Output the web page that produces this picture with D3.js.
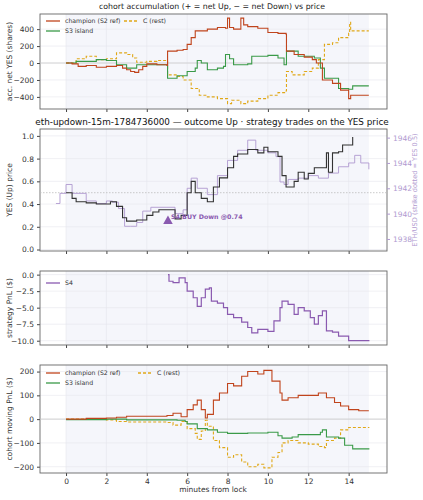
<!DOCTYPE html><html><head><meta charset="utf-8"><script src="https://cdn.jsdelivr.net/npm/d3@7"></script>
<style>body{margin:0;background:#fff}text{font-family:"DejaVu Sans",sans-serif}</style></head><body><svg id="c" width="423" height="500"></svg><script>
const xTicks=[0,2,4,6,8,10,12,14];
const accChamp=[[0,0],[0.3,-10],[0.6,-40],[1,-30],[1.5,-50],[2,-40],[2.5,-30],[2.8,-60],[3,-80],[3.2,-100],[3.4,-110],[3.6,-80],[3.8,-40],[4,-10],[4.5,-20],[5,-30],[5.03,140],[5.5,150],[5.8,160],[6,220],[6.2,300],[6.4,380],[7,400],[7.5,420],[7.9,410],[8.0,530],[8.1,420],[8.3,400],[8.66,530],[8.8,450],[9,430],[9.5,410],[10,360],[10.5,350],[10.9,340],[10.92,140],[11.3,100],[11.8,70],[12.2,40],[12.4,0],[12.7,-200],[13.2,-240],[13.6,-320],[14,-420],[14.1,-380],[15,-380]];
const accS3=[[0,0],[0.5,20],[1.5,40],[2,30],[2.5,-20],[3,-60],[3.5,-20],[4.5,-20],[5.03,-180],[5.5,-150],[6,-100],[6.4,-60],[6.5,30],[6.7,0],[7,-80],[7.5,-60],[7.8,-40],[7.9,100],[8.1,50],[8.3,-20],[9,-10],[9.2,80],[10,90],[10.5,60],[10.8,-20],[10.92,140],[11.5,80],[12.3,60],[12.6,-60],[12.8,-180],[13.5,-300],[14,-310],[14.2,-270],[15,-270]];
const accC=[[0,0],[0.5,50],[1,80],[1.5,40],[2,50],[2.5,120],[3,100],[3.3,60],[3.5,10],[4,20],[4.5,30],[5.03,-140],[5.5,-160],[5.8,-200],[6.2,-300],[6.6,-380],[7,-400],[7.5,-420],[8,-480],[8.2,-440],[8.66,-480],[9,-450],[9.5,-420],[10,-380],[10.5,-350],[10.9,-330],[10.92,-100],[11.2,-140],[11.8,-100],[12.2,-60],[12.5,40],[12.8,220],[13.2,240],[13.5,300],[14,350],[14.05,480],[14.1,380],[15,380]];
const yesPrice=[[0,0.5],[0.3,0.45],[0.5,0.42],[1,0.41],[1.5,0.4],[2,0.4],[2.2,0.42],[2.5,0.38],[2.8,0.28],[3,0.25],[3.5,0.26],[4,0.3],[4.3,0.33],[4.6,0.35],[5,0.35],[5.4,0.27],[5.7,0.3],[6,0.5],[6.2,0.6],[6.4,0.5],[6.7,0.45],[7,0.42],[7.3,0.55],[7.6,0.63],[8,0.72],[8.3,0.82],[8.5,0.84],[9,0.88],[9.5,0.85],[9.8,0.9],[10,0.86],[10.5,0.82],[10.7,0.65],[10.9,0.55],[11.3,0.6],[11.5,0.68],[11.8,0.62],[12,0.67],[12.3,0.72],[12.6,0.72],[12.9,0.85],[13,0.68],[13.2,0.85],[13.5,0.86],[13.7,0.92],[14.2,0.99]];
const ethPrice=[[-0.5,1940.8],[-0.3,1941.6],[0,1942.3],[0.3,1941.6],[1,1941.0],[1.5,1940.8],[2,1941],[2.3,1940.9],[2.6,1940.4],[2.9,1939],[3.2,1939],[3.5,1939.3],[3.8,1940.2],[4.2,1940.5],[5,1940.5],[5.4,1940],[5.8,1940.3],[6,1942],[6.2,1942.8],[6.5,1942],[7,1941.5],[7.5,1943],[8,1944.2],[8.5,1945],[9,1945.8],[9.4,1945],[10,1944.8],[10.4,1944.5],[10.6,1942.5],[10.8,1942.3],[11,1942.7],[11.5,1942.8],[12,1943],[12.5,1942.8],[13,1943.2],[13.5,1943.7],[14,1944],[14.3,1944.6],[14.6,1944],[15,1943.5]];
const trade={t:5.05,price:0.25,label:"S4 BUY Down @0.74"};
const s4Pnl=[[5.05,0],[5.1,-1],[5.3,-1.2],[5.6,-0.5],[5.9,-1.2],[6,-2.5],[6.3,-3.5],[6.5,-4.8],[6.7,-3.5],[6.9,-2.2],[7.1,-2],[7.2,-4],[7.5,-4.3],[7.8,-5],[8,-6],[8.3,-6.5],[8.7,-7.2],[9,-8],[9.2,-8.8],[9.5,-8.3],[10,-8.6],[10.3,-7],[10.6,-5],[10.7,-4],[11,-4.5],[11.3,-6],[11.5,-5],[11.8,-5.5],[12.1,-6.5],[12.3,-7.5],[12.5,-6.2],[12.7,-5.5],[12.9,-8.5],[13.2,-8.7],[13.5,-9.3],[14,-10],[15,-10.1]];
const pnlChamp=[[0,0],[1,3],[2,5],[2.5,8],[3,12],[4,12],[5,15],[5.3,25],[5.7,10],[6,40],[6.3,60],[6.5,80],[6.7,40],[6.9,5],[7,20],[7.3,80],[7.6,110],[8,150],[8.3,140],[8.7,180],[9,200],[9.5,190],[9.8,205],[10.2,160],[10.6,110],[10.7,80],[11,90],[11.5,100],[12,100],[12.5,110],[12.8,110],[12.9,90],[13.3,70],[13.6,55],[14,40],[14.5,35],[15,35]];
const pnlS3=[[0,-2],[2,0],[3,-3],[4,-3],[5.5,-5],[5.9,-10],[6,-20],[6.5,-40],[7,-45],[7.5,-55],[8,-60],[9,-58],[10,-55],[10.5,-70],[10.7,-80],[11.2,-75],[11.5,-65],[12,-65],[12.6,-55],[12.7,-45],[12.9,-75],[13.5,-80],[13.8,-110],[14.2,-125],[15,-128]];
const pnlC=[[0,0],[2,-3],[2.5,-10],[3,-12],[4,-12],[5,-14],[5.3,-25],[5.7,-10],[6,-40],[6.4,-60],[6.5,-85],[6.7,-50],[6.9,-5],[7,-30],[7.3,-90],[7.6,-120],[8,-160],[8.3,-150],[8.7,-180],[9,-200],[9.5,-190],[9.8,-205],[10.2,-160],[10.5,-140],[10.7,-100],[11,-90],[11.5,-100],[12,-105],[12.5,-115],[12.8,-120],[12.9,-90],[13.3,-80],[13.6,-45],[14,-35],[15,-33]];

const svg=d3.select("#c");
const L=40,R=387;
const x=d3.scaleLinear().domain([-1.29,15.9]).range([L,R]);
const C={ch:"#c0441c",s3:"#3a9a48",c:"#e0a818",s4:"#8a5ab0",eth:"#b09ad0"};
const um=f=>v=>{const s=f(v);return s.replace("-","\u2212");};
function panel(top,bot,dom,ticks,fmt,ylab,showX){
  const y=d3.scaleLinear().domain(dom).range([bot,top]);
  const g=svg.append("g");
  g.append("rect").attr("x",x(0)).attr("y",top).attr("width",x(15)-x(0)).attr("height",bot-top).attr("fill","#f5f6fb");
  xTicks.forEach(t=>g.append("line").attr("x1",x(t)).attr("x2",x(t)).attr("y1",top).attr("y2",bot).attr("stroke","#e6e6ec").attr("stroke-width",0.6));
  ticks.forEach(t=>g.append("line").attr("x1",L).attr("x2",R).attr("y1",y(t)).attr("y2",y(t)).attr("stroke","#e6e6ec").attr("stroke-width",0.6));
  const ya=g.append("g").attr("transform",`translate(${L},0)`).call(d3.axisLeft(y).tickValues(ticks).tickFormat(um(fmt)).tickSize(3));
  const xa=g.append("g").attr("transform",`translate(0,${bot})`).call(d3.axisBottom(x).tickValues(xTicks).tickSize(3).tickFormat(showX?d3.format("d"):()=>""));
  [ya,xa].forEach(a=>{a.select(".domain").remove();a.selectAll("text").attr("font-size",7.5).attr("fill","#333");a.selectAll("line").attr("stroke","#444")});
  g.append("rect").attr("x",L).attr("y",top).attr("width",R-L).attr("height",bot-top).attr("fill","none").attr("stroke","#666").attr("stroke-width",0.9);
  g.append("text").attr("transform",`translate(12,${(top+bot)/2}) rotate(-90)`).attr("text-anchor","middle").attr("font-size",7.5).attr("fill","#333").text(ylab);
  return {g,y};
}
function line(p,data,col,w,dash){
  p.g.append("path").datum(data).attr("fill","none").attr("stroke",col).attr("stroke-width",w).attr("stroke-dasharray",dash||null)
   .attr("d",d3.line().x(d=>x(d[0])).y(d=>p.y(d[1])).curve(d3.curveStepAfter));
}
const fmtN=d3.format("d");
function legend(g,x0,y0,items){
  items.forEach(([lx,ly,col,dash,t])=>{
    g.append("line").attr("x1",x0+lx).attr("x2",x0+lx+14).attr("y1",y0+ly).attr("y2",y0+ly).attr("stroke",col).attr("stroke-width",1.3).attr("stroke-dasharray",dash||null);
    g.append("text").attr("x",x0+lx+19).attr("y",y0+ly+2.3).attr("font-size",6.2).attr("fill","#333").text(t);
  });
}
// panel 1
svg.append("text").attr("x",212).attr("y",9).attr("text-anchor","middle").attr("font-size",7.8).attr("fill","#222").text("cohort accumulation (+ = net Up, \u2212 = net Down) vs price");
const p1=panel(14,109,[-543,579],[-400,-200,0,200,400],fmtN,"acc. net YES (shares)");
p1.g.append("line").attr("x1",L).attr("x2",R).attr("y1",p1.y(0)).attr("y2",p1.y(0)).attr("stroke","#ccc").attr("stroke-width",0.8);
line(p1,accC,C.c,1.1,"3,2");line(p1,accS3,C.s3,1.1);line(p1,accChamp,C.ch,1.1);
legend(p1.g,46,0,[[0,21,C.ch,null,"champion (S2 ref)"],[0,31,C.s3,null,"S3 island"],[78,21,C.c,"3,2","C (rest)"]]);
// panel 2
svg.append("text").attr("x",212).attr("y",125).attr("text-anchor","middle").attr("font-size",8.8).attr("fill","#111").text("eth-updown-15m-1784736000 \u2014 outcome Up \u00b7 strategy trades on the YES price");
const p2=panel(129,251,[-0.0131,1.0605],[0,0.2,0.4,0.6,0.8,1.0],d3.format(".1f"),"YES (Up) price");
const yE=d3.scaleLinear().domain([1937.05,1946.68]).range([251,129]);
const ea=svg.append("g").attr("transform",`translate(${R},0)`).call(d3.axisRight(yE).tickValues([1938,1940,1942,1944,1946]).tickFormat(d3.format("d")).tickSize(3));
ea.select(".domain").remove();ea.selectAll("text").attr("font-size",7.5).attr("fill",C.eth);ea.selectAll("line").attr("stroke",C.eth);
svg.append("text").attr("transform",`translate(417,190) rotate(-90)`).attr("text-anchor","middle").attr("font-size",6.6).attr("fill",C.eth).text("ETH/USD (strike dotted = YES 0.5)");
p2.g.append("line").attr("x1",L).attr("x2",R).attr("y1",p2.y(0.5)).attr("y2",p2.y(0.5)).attr("stroke","#bbb").attr("stroke-width",0.8).attr("stroke-dasharray","1.5,1.5");
p2.g.append("path").datum(ethPrice).attr("fill","none").attr("stroke",C.eth).attr("stroke-width",0.9).attr("d",d3.line().x(d=>x(d[0])).y(d=>yE(d[1])).curve(d3.curveStepAfter));
line(p2,yesPrice,"#333",1.1);
p2.g.append("path").attr("d",d3.symbol(d3.symbolTriangle,40)()).attr("transform",`translate(${x(trade.t)},${p2.y(trade.price)})`).attr("fill",C.s4);
p2.g.append("text").attr("x",x(trade.t)+3).attr("y",p2.y(trade.price)-2).attr("font-size",6.3).attr("font-weight","bold").attr("fill",C.s4).text(trade.label);
// panel 3
const p3=panel(271,345,[-10.65,0.55],[-10,-7.5,-5,-2.5,0],d3.format(".1f"),"strategy PnL ($)");
line(p3,s4Pnl,C.s4,1.2);
legend(p3.g,46,0,[[0,283,C.s4,null,"S4"]]);
// panel 4
const p4=panel(365,473,[-226.5,227.6],[-200,-100,0,100,200],fmtN,"cohort moving PnL ($)",true);
p4.g.append("line").attr("x1",L).attr("x2",R).attr("y1",p4.y(0)).attr("y2",p4.y(0)).attr("stroke","#ccc").attr("stroke-width",0.8);
line(p4,pnlC,C.c,1.1,"3,2");line(p4,pnlS3,C.s3,1.1);line(p4,pnlChamp,C.ch,1.1);
legend(p4.g,46,0,[[0,373,C.ch,null,"champion (S2 ref)"],[0,383,C.s3,null,"S3 island"],[92,373,C.c,"3,2","C (rest)"]]);
svg.append("text").attr("x",213).attr("y",492).attr("text-anchor","middle").attr("font-size",7.5).attr("fill","#333").text("minutes from lock");
</script></body></html>
